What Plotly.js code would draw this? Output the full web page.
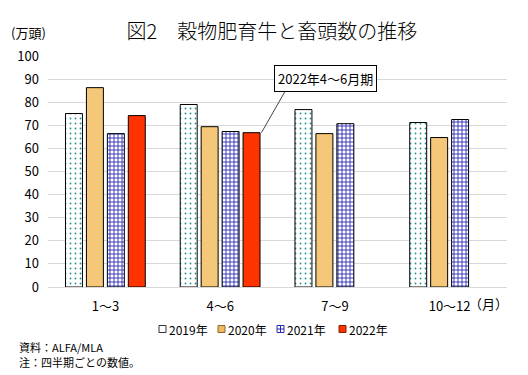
<!DOCTYPE html>
<html>
<head>
<meta charset="utf-8">
<script src="https://cdn.plot.ly/plotly-3.0.1.min.js"></script>
<style>html,body{margin:0;padding:0;background:#fff;}#chart{width:528px;height:375px;}</style>
</head>
<body>
<div id="chart"></div>
<script>
const categories = ['1～3', '4～6', '7～9', '10～12'];
const series = ['2019年', '2020年', '2021年', '2022年'];
const v2019 = [75.1, 79.0, 76.8, 71.2];
const v2020 = [86.3, 69.4, 66.4, 64.7];
const v2021 = [66.4, 67.3, 70.7, 72.5];
const v2022 = [74.2, 66.8, null, null];
const yTicks = [0, 10, 20, 30, 40, 50, 60, 70, 80, 90, 100];

const FONT = '"Noto Sans CJK JP", "Noto Sans", sans-serif';
const line = {color: '#000000', width: 1};

const styles = [
  {color: '#ffffff', pattern: {shape: '.', fgcolor: '#1f8f8f', bgcolor: '#ffffff', size: 5, solidity: 0.1}},
  {color: '#f4c878'},
  {color: '#ffffff', pattern: {shape: '+', fgcolor: '#2a2ab8', bgcolor: '#ffffff', size: 4, solidity: 0.4}},
  {color: '#ff3300'}
];
const values = [v2019, v2020, v2021, v2022];

const traces = values.map((v, i) => ({
  type: 'bar', name: series[i], x: categories, y: v, showlegend: false,
  marker: Object.assign({line: line}, styles[i])
}));

// custom compact legend (matching the reference's tight spacing)
const legendX = [159, 218, 277, 339];   // pixel positions of legend squares
const legendFill = ['#ffffff', '#f0b860', '#ffffff', '#ff3300'];
const legendLine = ['#333333', '#8a6a30', '#2a2ab8', '#802000'];
const PLOT_L = 48, PLOT_B = 287, LEG_Y = 329;
const shapes = [];
const annotations = [];
series.forEach((s, i) => {
  shapes.push({type: 'rect', xref: 'paper', yref: 'paper', xsizemode: 'pixel', ysizemode: 'pixel',
    xanchor: 0, yanchor: 0,
    x0: legendX[i] - PLOT_L, x1: legendX[i] - PLOT_L + 7,
    y0: -(LEG_Y + 3.5 - PLOT_B), y1: -(LEG_Y - 3.5 - PLOT_B),
    fillcolor: legendFill[i], line: {color: legendLine[i], width: 1}});
  annotations.push({xref: 'paper', yref: 'paper', x: 0, y: 0, xanchor: 'left', yanchor: 'middle',
    xshift: legendX[i] - PLOT_L + 8, yshift: -(LEG_Y - PLOT_B),
    text: s, showarrow: false, font: {family: FONT, size: 12}});
});
// inner marks of legend squares
shapes.push({type: 'line', xref: 'paper', yref: 'paper', xsizemode: 'pixel', ysizemode: 'pixel',
  xanchor: 0, yanchor: 0, x0: legendX[2] - PLOT_L, x1: legendX[2] - PLOT_L + 7,
  y0: -(LEG_Y - PLOT_B), y1: -(LEG_Y - PLOT_B), line: {color: '#2a2ab8', width: 1}});
shapes.push({type: 'line', xref: 'paper', yref: 'paper', xsizemode: 'pixel', ysizemode: 'pixel',
  xanchor: 0, yanchor: 0, x0: legendX[2] - PLOT_L + 3.5, x1: legendX[2] - PLOT_L + 3.5,
  y0: -(LEG_Y + 3.5 - PLOT_B), y1: -(LEG_Y - 3.5 - PLOT_B), line: {color: '#2a2ab8', width: 1}});

// callout
const calloutX = 1 + 0.36;
shapes.push({type: 'line', xref: 'x', yref: 'y', xsizemode: 'pixel', ysizemode: 'pixel',
  xanchor: calloutX, yanchor: v2022[1], x0: 0, x1: 24, y0: 0, y1: 42,
  line: {color: '#444444', width: 1}});
annotations.push({xref: 'x', yref: 'y', x: calloutX, y: v2022[1], xshift: 64, yshift: 54,
  text: '2022年4～6月期', showarrow: false,
  bordercolor: '#000', borderwidth: 1, borderpad: 3, bgcolor: '#ffffff',
  font: {family: FONT, size: 13}});

annotations.push(
  {xref: 'paper', yref: 'paper', x: -0.0425, y: 1.10, xanchor: 'center', yanchor: 'middle',
   text: '(万頭)', showarrow: false, font: {family: FONT, size: 13}},
  {xref: 'paper', yref: 'paper', x: 1.0065, y: -0.072, xanchor: 'right', yanchor: 'middle',
   text: '（月）', showarrow: false, font: {family: FONT, size: 13}},
  {xref: 'paper', yref: 'paper', x: -0.068, y: -0.26, xanchor: 'left', yanchor: 'middle',
   text: '資料：ALFA/MLA', showarrow: false, font: {family: FONT, size: 11}},
  {xref: 'paper', yref: 'paper', x: -0.068, y: -0.325, xanchor: 'left', yanchor: 'middle',
   text: '注：四半期ごとの数値。', showarrow: false, font: {family: FONT, size: 11}}
);

const layout = {
  width: 528, height: 375,
  margin: {l: 48, r: 21, t: 56, b: 88},
  paper_bgcolor: '#ffffff', plot_bgcolor: '#ffffff',
  font: {family: FONT, color: '#000000', size: 13},
  barmode: 'group', bargap: 0.27, bargroupgap: 0.19,
  title: {text: '図2　穀物肥育牛と畜頭数の推移', font: {family: FONT, size: 20, color: '#000', weight: 300},
          x: 0.515, xanchor: 'center', y: 0.915, yanchor: 'middle'},
  xaxis: {type: 'category', showgrid: false, showline: false, ticks: '', zeroline: false,
          tickfont: {family: FONT, size: 13}, ticklabelstandoff: 10},
  yaxis: {range: [0, 100], tickvals: yTicks, showgrid: true, gridcolor: '#d9d9d9', gridwidth: 1,
          zeroline: true, zerolinecolor: '#d9d9d9', zerolinewidth: 1, showline: false, ticks: '',
          tickfont: {family: FONT, size: 13}, ticklabelstandoff: 8},
  showlegend: false,
  shapes: shapes,
  annotations: annotations
};

Plotly.newPlot('chart', traces, layout, {displayModeBar: false, staticPlot: true});
</script>
</body>
</html>
